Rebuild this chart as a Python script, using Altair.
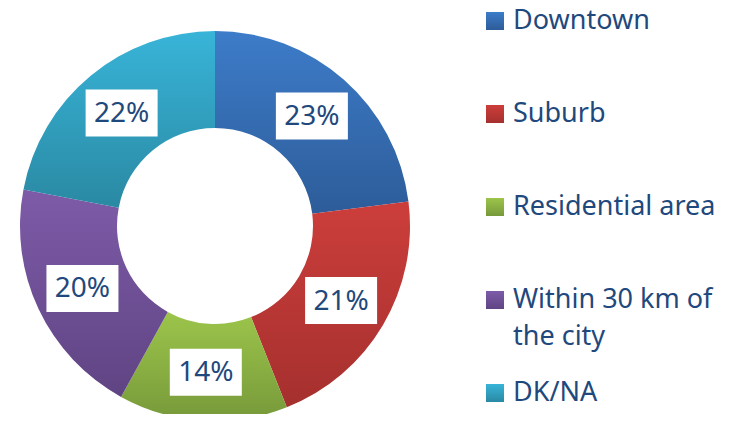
import altair as alt
import pandas as pd

categories = ["Downtown", "Suburb", "Residential area", "Within 30 km of the city", "DK/NA"]
values = [23, 21, 14, 20, 22]
legend_labels = ["Downtown", "Suburb", "Residential area", "Within 30 km of\nthe city", "DK/NA"]
top_colors = ["#3d7cc9", "#cc3e3b", "#9cc54b", "#7e5ba8", "#38b4d8"]
bottom_colors = ["#2d5c99", "#a5302e", "#77993a", "#5f4483", "#2a89a3"]

df = pd.DataFrame({
    "cat": categories,
    "value": values,
    "idx": list(range(len(categories))),
    "legend": legend_labels,
})

PAD_TOP = 12
CX, CY = 207, 218 - PAD_TOP
R_OUT, R_IN = 195, 98
R_LAB = (R_OUT + R_IN) / 2
TEXT = "#1f497d"
FONT = "Noto Sans"


def grad(c1, c2):
    return {
        "gradient": "linear", "x1": 0, "y1": 0, "x2": 0, "y2": 1,
        "stops": [{"offset": 0, "color": c1}, {"offset": 1, "color": c2}],
    }


fill = alt.when(alt.datum.cat == categories[0]).then(alt.value(grad(top_colors[0], bottom_colors[0])))
for i in range(1, len(categories) - 1):
    fill = fill.when(alt.datum.cat == categories[i]).then(alt.value(grad(top_colors[i], bottom_colors[i])))
fill = fill.otherwise(alt.value(grad(top_colors[-1], bottom_colors[-1])))

base = alt.Chart(df)

donut = base.mark_arc(innerRadius=R_IN, outerRadius=R_OUT, stroke=None).encode(
    theta=alt.Theta("value:Q", stack=True),
    order=alt.Order("idx:Q"),
    x=alt.value(CX),
    y=alt.value(CY),
    fill=fill,
)

pos = base.transform_window(
    cum="sum(value)", sort=[alt.SortField("idx")], frame=[None, 0]
).transform_joinaggregate(
    total="sum(value)"
).transform_calculate(
    mid="(datum.cum - datum.value/2) / datum.total * 2 * PI",
).transform_calculate(
    bx=f"{CX} + {R_LAB} * sin(datum.mid)",
    by=f"{CY} - {R_LAB} * cos(datum.mid)",
    pct="datum.value + '%'",
).transform_calculate(
    bx1="datum.bx - 36", bx2="datum.bx + 36",
    by1="datum.by - 23.5", by2="datum.by + 23.5",
)

boxes = pos.mark_rect(fill="white").encode(
    x=alt.X("bx1:Q", scale=None, axis=None),
    x2="bx2:Q",
    y=alt.Y("by1:Q", scale=None, axis=None),
    y2="by2:Q",
)

labels = pos.mark_text(font=FONT, fontSize=28, color=TEXT, align="center", baseline="middle", dy=1).encode(
    x=alt.X("bx:Q", scale=None, axis=None),
    y=alt.Y("by:Q", scale=None, axis=None),
    text="pct:N",
)

leg_y = alt.Y("cat:N", sort=categories,
              scale=alt.Scale(domain=categories, range=[13 - PAD_TOP, 385 - PAD_TOP], padding=0),
              axis=None)

leg_sq = base.mark_square(size=324, opacity=1, stroke=None).encode(
    x=alt.value(487),
    y=leg_y,
    fill=fill,
)

leg_txt = base.mark_text(font=FONT, fontSize=27, color=TEXT, align="left", baseline="middle",
                         lineBreak="\n", lineHeight=37).encode(
    x=alt.value(505),
    y=leg_y,
    text="legend:N",
)

chart = alt.layer(donut, boxes, labels, leg_sq, leg_txt).resolve_scale(
    x="independent", y="independent"
).properties(
    width=717, height=406 - PAD_TOP,
    padding={"top": PAD_TOP, "left": 0, "right": 0, "bottom": 0},
    autosize=alt.AutoSizeParams(type="none"),
).configure_view(stroke=None)

chart.save("out.html", embed_options={"renderer": "svg", "actions": False})
